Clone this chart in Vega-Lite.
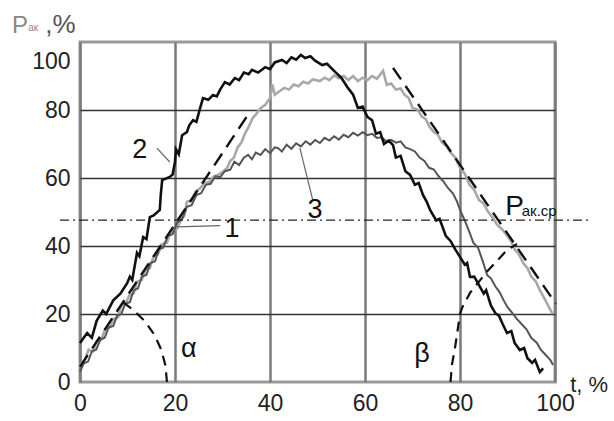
{
  "$schema": "https://vega.github.io/schema/vega-lite/v6.json",
  "width": 475,
  "height": 340,
  "autosize": "none",
  "padding": {"left": 80, "top": 42, "right": 59, "bottom": 39},
  "background": "white",
  "config": {
    "view": {"stroke": "#9a9a9a", "strokeWidth": 3},
    "font": "Liberation Sans",
    "axis": {"domain": false, "ticks": false, "labelFont": "Liberation Sans", "labelFontSize": 23, "labelColor": "#222", "labelOverlap": false, "labelFlush": false}
  },
  "datasets": {
    "curves": [
      {"s": "2", "t": 0, "p": 11.5}, {"s": "2", "t": 1.5, "p": 14.4}, {"s": "2", "t": 2.5, "p": 13}, {"s": "2", "t": 3.5, "p": 18}, {"s": "2", "t": 4.8, "p": 21}, {"s": "2", "t": 5.5, "p": 20}, {"s": "2", "t": 7, "p": 24}, {"s": "2", "t": 8.5, "p": 26}, {"s": "2", "t": 9.9, "p": 29}, {"s": "2", "t": 10.5, "p": 31}, {"s": "2", "t": 11, "p": 30}, {"s": "2", "t": 12, "p": 38}, {"s": "2", "t": 12.5, "p": 37}, {"s": "2", "t": 13.3, "p": 42.6}, {"s": "2", "t": 14, "p": 42}, {"s": "2", "t": 14.7, "p": 48.5}, {"s": "2", "t": 15.5, "p": 49}, {"s": "2", "t": 16.8, "p": 50.6}, {"s": "2", "t": 17, "p": 55}, {"s": "2", "t": 17.3, "p": 59.4}, {"s": "2", "t": 18.9, "p": 60.3}, {"s": "2", "t": 19.5, "p": 61}, {"s": "2", "t": 20, "p": 64.7}, {"s": "2", "t": 20.2, "p": 68.5}, {"s": "2", "t": 20.8, "p": 67}, {"s": "2", "t": 21.5, "p": 72.6}, {"s": "2", "t": 22.5, "p": 73.5}, {"s": "2", "t": 23, "p": 75.5}, {"s": "2", "t": 23.8, "p": 77}, {"s": "2", "t": 24.5, "p": 76.5}, {"s": "2", "t": 25.3, "p": 80.6}, {"s": "2", "t": 25.9, "p": 83.5}, {"s": "2", "t": 27, "p": 83}, {"s": "2", "t": 28, "p": 84.4}, {"s": "2", "t": 28.8, "p": 84}, {"s": "2", "t": 29.5, "p": 86}, {"s": "2", "t": 30.5, "p": 88.2}, {"s": "2", "t": 31.5, "p": 87.5}, {"s": "2", "t": 32.6, "p": 89.4}, {"s": "2", "t": 33.5, "p": 88.8}, {"s": "2", "t": 34.5, "p": 91}, {"s": "2", "t": 35.5, "p": 90.5}, {"s": "2", "t": 36.2, "p": 91.8}, {"s": "2", "t": 37.5, "p": 91}, {"s": "2", "t": 39, "p": 92.6}, {"s": "2", "t": 40, "p": 92}, {"s": "2", "t": 41, "p": 94}, {"s": "2", "t": 42.5, "p": 94.7}, {"s": "2", "t": 43.5, "p": 93.8}, {"s": "2", "t": 44.5, "p": 95.5}, {"s": "2", "t": 45.5, "p": 94.8}, {"s": "2", "t": 46.5, "p": 96.2}, {"s": "2", "t": 47.4, "p": 95.3}, {"s": "2", "t": 48.5, "p": 95.8}, {"s": "2", "t": 49.5, "p": 94.5}, {"s": "2", "t": 51, "p": 93.2}, {"s": "2", "t": 52, "p": 93.6}, {"s": "2", "t": 53.7, "p": 91.2}, {"s": "2", "t": 55, "p": 89.5}, {"s": "2", "t": 56.4, "p": 86.5}, {"s": "2", "t": 57.5, "p": 84.5}, {"s": "2", "t": 58.5, "p": 80.6}, {"s": "2", "t": 59.5, "p": 81}, {"s": "2", "t": 60.5, "p": 78}, {"s": "2", "t": 61.5, "p": 77}, {"s": "2", "t": 62.3, "p": 73}, {"s": "2", "t": 63.2, "p": 73.5}, {"s": "2", "t": 64, "p": 70}, {"s": "2", "t": 65, "p": 71}, {"s": "2", "t": 65.9, "p": 69.7}, {"s": "2", "t": 66.5, "p": 66}, {"s": "2", "t": 67.5, "p": 66.5}, {"s": "2", "t": 68.5, "p": 62}, {"s": "2", "t": 69.5, "p": 60.9}, {"s": "2", "t": 70.5, "p": 58}, {"s": "2", "t": 71.3, "p": 58.5}, {"s": "2", "t": 72.2, "p": 55}, {"s": "2", "t": 73, "p": 53}, {"s": "2", "t": 73.7, "p": 50.6}, {"s": "2", "t": 75, "p": 47.5}, {"s": "2", "t": 75.7, "p": 48}, {"s": "2", "t": 77, "p": 43}, {"s": "2", "t": 78, "p": 41.5}, {"s": "2", "t": 79, "p": 39}, {"s": "2", "t": 80, "p": 36.8}, {"s": "2", "t": 81, "p": 34.5}, {"s": "2", "t": 81.5, "p": 35}, {"s": "2", "t": 82.1, "p": 30.9}, {"s": "2", "t": 83, "p": 31}, {"s": "2", "t": 84.2, "p": 28}, {"s": "2", "t": 85, "p": 26}, {"s": "2", "t": 85.5, "p": 27}, {"s": "2", "t": 86.5, "p": 22.5}, {"s": "2", "t": 87.4, "p": 20.3}, {"s": "2", "t": 88.2, "p": 19.5}, {"s": "2", "t": 89, "p": 17}, {"s": "2", "t": 89.9, "p": 14.4}, {"s": "2", "t": 90.8, "p": 15}, {"s": "2", "t": 91.5, "p": 11.5}, {"s": "2", "t": 92.6, "p": 9.4}, {"s": "2", "t": 93.5, "p": 10}, {"s": "2", "t": 94.2, "p": 7}, {"s": "2", "t": 95.2, "p": 5.6}, {"s": "2", "t": 95.8, "p": 6.5}, {"s": "2", "t": 96.8, "p": 2.9}, {"s": "2", "t": 97.5, "p": 4},

      {"s": "1", "t": 0, "p": 5}, {"s": "1", "t": 1, "p": 6.5}, {"s": "1", "t": 1.8, "p": 9.5}, {"s": "1", "t": 2.7, "p": 9}, {"s": "1", "t": 3.5, "p": 12}, {"s": "1", "t": 4.5, "p": 12.5}, {"s": "1", "t": 5.3, "p": 15.5}, {"s": "1", "t": 6.2, "p": 16}, {"s": "1", "t": 7, "p": 18.5}, {"s": "1", "t": 8, "p": 19}, {"s": "1", "t": 8.7, "p": 22.5}, {"s": "1", "t": 9.6, "p": 23}, {"s": "1", "t": 10.4, "p": 25.5}, {"s": "1", "t": 11.3, "p": 26}, {"s": "1", "t": 12, "p": 29.5}, {"s": "1", "t": 13, "p": 30}, {"s": "1", "t": 13.8, "p": 33}, {"s": "1", "t": 14.7, "p": 33.5}, {"s": "1", "t": 15.5, "p": 37}, {"s": "1", "t": 16.4, "p": 37.5}, {"s": "1", "t": 17.2, "p": 40.5}, {"s": "1", "t": 18.3, "p": 41}, {"s": "1", "t": 19, "p": 44}, {"s": "1", "t": 20.4, "p": 45}, {"s": "1", "t": 21.2, "p": 47.6}, {"s": "1", "t": 22, "p": 49}, {"s": "1", "t": 22.5, "p": 53}, {"s": "1", "t": 23.5, "p": 53.5}, {"s": "1", "t": 24.3, "p": 56}, {"s": "1", "t": 25.3, "p": 57}, {"s": "1", "t": 26.2, "p": 58.5}, {"s": "1", "t": 27.2, "p": 58.8}, {"s": "1", "t": 28.2, "p": 60.5}, {"s": "1", "t": 29.2, "p": 61}, {"s": "1", "t": 30.2, "p": 62}, {"s": "1", "t": 31, "p": 63}, {"s": "1", "t": 31.6, "p": 65}, {"s": "1", "t": 32.4, "p": 66}, {"s": "1", "t": 33.2, "p": 69}, {"s": "1", "t": 34, "p": 70.5}, {"s": "1", "t": 34.7, "p": 73}, {"s": "1", "t": 35.5, "p": 75}, {"s": "1", "t": 36.3, "p": 77.5}, {"s": "1", "t": 37.2, "p": 79}, {"s": "1", "t": 38, "p": 80.5}, {"s": "1", "t": 39, "p": 81.5}, {"s": "1", "t": 40, "p": 83.5}, {"s": "1", "t": 40.5, "p": 87.5}, {"s": "1", "t": 41, "p": 84.5}, {"s": "1", "t": 42, "p": 85.5}, {"s": "1", "t": 43, "p": 86.5}, {"s": "1", "t": 44, "p": 86}, {"s": "1", "t": 45, "p": 87.5}, {"s": "1", "t": 46, "p": 87}, {"s": "1", "t": 47, "p": 88.3}, {"s": "1", "t": 48, "p": 87.8}, {"s": "1", "t": 49, "p": 89}, {"s": "1", "t": 50.5, "p": 88.5}, {"s": "1", "t": 51.5, "p": 89.5}, {"s": "1", "t": 52.5, "p": 88.8}, {"s": "1", "t": 53.5, "p": 90.2}, {"s": "1", "t": 54.5, "p": 89.3}, {"s": "1", "t": 55.5, "p": 90}, {"s": "1", "t": 56.5, "p": 88.8}, {"s": "1", "t": 57.5, "p": 90}, {"s": "1", "t": 58.5, "p": 88.5}, {"s": "1", "t": 59.5, "p": 89.5}, {"s": "1", "t": 60.5, "p": 88.8}, {"s": "1", "t": 61.5, "p": 90}, {"s": "1", "t": 62.5, "p": 89.2}, {"s": "1", "t": 63.8, "p": 91.5}, {"s": "1", "t": 64.6, "p": 87.4}, {"s": "1", "t": 65.5, "p": 87.8}, {"s": "1", "t": 66.5, "p": 86}, {"s": "1", "t": 67.5, "p": 86.3}, {"s": "1", "t": 68.3, "p": 84.5}, {"s": "1", "t": 69.2, "p": 83.5}, {"s": "1", "t": 70, "p": 80.6}, {"s": "1", "t": 71, "p": 80.2}, {"s": "1", "t": 72, "p": 78}, {"s": "1", "t": 72.8, "p": 77.3}, {"s": "1", "t": 73.6, "p": 75}, {"s": "1", "t": 74.5, "p": 73.5}, {"s": "1", "t": 75.3, "p": 72.8}, {"s": "1", "t": 76.2, "p": 70.5}, {"s": "1", "t": 77.2, "p": 69.3}, {"s": "1", "t": 78, "p": 67.5}, {"s": "1", "t": 79, "p": 66}, {"s": "1", "t": 80, "p": 63}, {"s": "1", "t": 81, "p": 61.3}, {"s": "1", "t": 82, "p": 58}, {"s": "1", "t": 83, "p": 56.5}, {"s": "1", "t": 84, "p": 53.5}, {"s": "1", "t": 85, "p": 52.5}, {"s": "1", "t": 85.8, "p": 50.3}, {"s": "1", "t": 86.8, "p": 48.5}, {"s": "1", "t": 87.8, "p": 46.3}, {"s": "1", "t": 88.8, "p": 45}, {"s": "1", "t": 89.8, "p": 43.3}, {"s": "1", "t": 90.7, "p": 41.5}, {"s": "1", "t": 91.5, "p": 39}, {"s": "1", "t": 92.4, "p": 37.5}, {"s": "1", "t": 93.3, "p": 35}, {"s": "1", "t": 94.2, "p": 33.5}, {"s": "1", "t": 95, "p": 31}, {"s": "1", "t": 96, "p": 29.5}, {"s": "1", "t": 96.8, "p": 27}, {"s": "1", "t": 97.8, "p": 24.5}, {"s": "1", "t": 98.5, "p": 22.6}, {"s": "1", "t": 99.5, "p": 20},

      {"s": "3", "t": 0, "p": 3}, {"s": "3", "t": 0.8, "p": 5.5}, {"s": "3", "t": 1.7, "p": 6}, {"s": "3", "t": 2.5, "p": 9}, {"s": "3", "t": 3.4, "p": 9.5}, {"s": "3", "t": 4.3, "p": 12.5}, {"s": "3", "t": 5.2, "p": 13}, {"s": "3", "t": 6, "p": 16}, {"s": "3", "t": 7, "p": 16.5}, {"s": "3", "t": 7.8, "p": 19.5}, {"s": "3", "t": 8.7, "p": 20}, {"s": "3", "t": 9.5, "p": 23}, {"s": "3", "t": 10.5, "p": 23.5}, {"s": "3", "t": 11.3, "p": 27}, {"s": "3", "t": 12.2, "p": 27.5}, {"s": "3", "t": 13, "p": 31}, {"s": "3", "t": 14, "p": 31.5}, {"s": "3", "t": 14.8, "p": 35}, {"s": "3", "t": 15.8, "p": 35.5}, {"s": "3", "t": 16.6, "p": 39}, {"s": "3", "t": 17.5, "p": 39.5}, {"s": "3", "t": 18.5, "p": 43}, {"s": "3", "t": 19.5, "p": 43.5}, {"s": "3", "t": 20.5, "p": 47}, {"s": "3", "t": 21.5, "p": 48}, {"s": "3", "t": 22.5, "p": 51.5}, {"s": "3", "t": 23.5, "p": 52}, {"s": "3", "t": 24.5, "p": 55}, {"s": "3", "t": 25.5, "p": 55.5}, {"s": "3", "t": 26.5, "p": 58}, {"s": "3", "t": 27.5, "p": 58.3}, {"s": "3", "t": 28.5, "p": 60.5}, {"s": "3", "t": 29.5, "p": 60.2}, {"s": "3", "t": 30.5, "p": 62}, {"s": "3", "t": 31.6, "p": 62.4}, {"s": "3", "t": 32.5, "p": 64.8}, {"s": "3", "t": 33.5, "p": 63.8}, {"s": "3", "t": 34.5, "p": 66}, {"s": "3", "t": 35.4, "p": 66.8}, {"s": "3", "t": 36.2, "p": 65.5}, {"s": "3", "t": 37, "p": 67.5}, {"s": "3", "t": 38, "p": 66.8}, {"s": "3", "t": 39, "p": 68.5}, {"s": "3", "t": 40, "p": 67.3}, {"s": "3", "t": 41, "p": 69}, {"s": "3", "t": 41.7, "p": 68.8}, {"s": "3", "t": 42.5, "p": 67.8}, {"s": "3", "t": 43.5, "p": 69.8}, {"s": "3", "t": 44.5, "p": 68.6}, {"s": "3", "t": 45.5, "p": 70.2}, {"s": "3", "t": 46.5, "p": 69.3}, {"s": "3", "t": 47.5, "p": 70.8}, {"s": "3", "t": 48.5, "p": 69.8}, {"s": "3", "t": 49.5, "p": 71.2}, {"s": "3", "t": 50.5, "p": 70.3}, {"s": "3", "t": 51.5, "p": 71.8}, {"s": "3", "t": 52.5, "p": 71}, {"s": "3", "t": 53.5, "p": 72.3}, {"s": "3", "t": 54.5, "p": 71.3}, {"s": "3", "t": 55.5, "p": 72.7}, {"s": "3", "t": 56.5, "p": 72}, {"s": "3", "t": 57.5, "p": 73.3}, {"s": "3", "t": 58.5, "p": 72.5}, {"s": "3", "t": 59.5, "p": 73.5}, {"s": "3", "t": 60.5, "p": 72.6}, {"s": "3", "t": 61.5, "p": 73}, {"s": "3", "t": 62.5, "p": 71.8}, {"s": "3", "t": 63.5, "p": 72}, {"s": "3", "t": 64.5, "p": 70.8}, {"s": "3", "t": 65.5, "p": 71.2}, {"s": "3", "t": 66.5, "p": 70.4}, {"s": "3", "t": 67.5, "p": 70.8}, {"s": "3", "t": 68.5, "p": 69}, {"s": "3", "t": 69.5, "p": 68.5}, {"s": "3", "t": 70.5, "p": 67.8}, {"s": "3", "t": 71.5, "p": 66}, {"s": "3", "t": 72.5, "p": 65}, {"s": "3", "t": 73.5, "p": 63}, {"s": "3", "t": 74.5, "p": 62.5}, {"s": "3", "t": 75.5, "p": 60.5}, {"s": "3", "t": 76.5, "p": 59}, {"s": "3", "t": 77.5, "p": 57}, {"s": "3", "t": 78.5, "p": 55.5}, {"s": "3", "t": 79.4, "p": 53}, {"s": "3", "t": 80, "p": 50.6}, {"s": "3", "t": 81, "p": 47.5}, {"s": "3", "t": 82, "p": 44}, {"s": "3", "t": 82.8, "p": 41}, {"s": "3", "t": 83.8, "p": 39.5}, {"s": "3", "t": 84.8, "p": 35.5}, {"s": "3", "t": 85.7, "p": 31.5}, {"s": "3", "t": 86.5, "p": 30.5}, {"s": "3", "t": 87.5, "p": 28}, {"s": "3", "t": 88.3, "p": 26.5}, {"s": "3", "t": 89.2, "p": 24}, {"s": "3", "t": 90, "p": 22}, {"s": "3", "t": 91, "p": 20.3}, {"s": "3", "t": 92, "p": 18.5}, {"s": "3", "t": 93, "p": 17}, {"s": "3", "t": 94, "p": 15.5}, {"s": "3", "t": 95, "p": 13}, {"s": "3", "t": 96.2, "p": 11.5}, {"s": "3", "t": 97, "p": 9.5}, {"s": "3", "t": 98, "p": 8}, {"s": "3", "t": 99, "p": 6.5}, {"s": "3", "t": 99.6, "p": 5}
    ],
    "tangents": [
      {"s": "a", "t": 0, "p": 4.5}, {"s": "a", "t": 35.8, "p": 79.5},
      {"s": "b", "t": 65.9, "p": 92.4}, {"s": "b", "t": 100.2, "p": 23}
    ],
    "arcs": [
      {"s": "alpha", "t": 18.3, "p": 0}, {"s": "alpha", "t": 18, "p": 4.8}, {"s": "alpha", "t": 17.1, "p": 9.5}, {"s": "alpha", "t": 15.7, "p": 13.8}, {"s": "alpha", "t": 13.7, "p": 17.8}, {"s": "alpha", "t": 11.2, "p": 21.2}, {"s": "alpha", "t": 9.1, "p": 23.4},
      {"s": "beta", "t": 78, "p": 0}, {"s": "beta", "t": 78.3, "p": 5}, {"s": "beta", "t": 79, "p": 10.5}, {"s": "beta", "t": 80, "p": 20}, {"s": "beta", "t": 80.5, "p": 22}, {"s": "beta", "t": 82.1, "p": 26.2}, {"s": "beta", "t": 85.7, "p": 32.5}, {"s": "beta", "t": 89.9, "p": 38.8}, {"s": "beta", "t": 92, "p": 40.6}
    ],
    "avg": [{"t": -4.2, "p": 47.6}, {"t": 107.8, "p": 47.6}],
    "leaders": [
      {"s": "L2", "t": 16.2, "p": 68.8}, {"s": "L2", "t": 18.9, "p": 64.7},
      {"s": "L1", "t": 20.4, "p": 45.6}, {"s": "L1", "t": 29.5, "p": 46},
      {"s": "L3", "t": 46.3, "p": 68.8}, {"s": "L3", "t": 49, "p": 53.5}
    ],
    "numlabels": [
      {"label": "2", "t": 12.6, "p": 65.9},
      {"label": "1", "t": 32, "p": 42.6},
      {"label": "3", "t": 49.5, "p": 48.2},
      {"label": "α", "t": 22.9, "p": 7.4},
      {"label": "β", "t": 72, "p": 5.9}
    ],
    "bigP": [{"label": "P", "t": 89.5, "p": 49.1}],
    "subP": [{"label": "ак.ср", "t": 93, "p": 48.8}],
    "ytitleP": [{"label": "P", "t": -14.3, "p": 102.6}],
    "ytitleSub": [{"label": "ак", "t": -10.9, "p": 103.2}],
    "ytitleRest": [{"label": ",%", "t": -7.3, "p": 102.6}],
    "xtitle": [{"label": "t, %", "t": 103.2, "p": -2.9}]
  },
  "encoding": {
    "x": {"field": "t", "type": "quantitative", "title": null,
      "scale": {"domain": [0, 100], "nice": false, "zero": false},
      "axis": {"values": [0, 20, 40, 60, 80, 100], "grid": true, "gridColor": "#7a7a7a", "gridWidth": 2.5, "labelPadding": 10}},
    "y": {"field": "p", "type": "quantitative", "title": null,
      "scale": {"domain": [0, 100], "nice": false, "zero": false},
      "axis": {"values": [0, 20, 40, 60, 80, 100], "grid": true,
        "gridColor": {"condition": {"test": "datum.value == 0 || datum.value == 100", "value": "transparent"}, "value": "#333"},
        "gridWidth": 1.5, "labelPadding": 10,
        "labelOffset": {"condition": {"test": "datum.value == 100", "value": 19}, "value": 0}}}
  },
  "layer": [
    {"data": {"name": "curves"}, "transform": [{"filter": "datum.s == '1'"}], "mark": {"type": "line", "color": "#a8a8a8", "strokeWidth": 2.6}},
    {"data": {"name": "curves"}, "transform": [{"filter": "datum.s == '3'"}], "mark": {"type": "line", "color": "#555", "strokeWidth": 2}},
    {"data": {"name": "curves"}, "transform": [{"filter": "datum.s == '2'"}], "mark": {"type": "line", "color": "#111", "strokeWidth": 2.6}},
    {"data": {"name": "tangents"}, "mark": {"type": "line", "color": "#111", "strokeWidth": 2.4, "strokeDash": [14, 8]}, "encoding": {"detail": {"field": "s"}}},
    {"data": {"name": "arcs"}, "mark": {"type": "line", "color": "#111", "strokeWidth": 2.2, "strokeDash": [10, 7]}, "encoding": {"detail": {"field": "s"}}},
    {"data": {"name": "avg"}, "mark": {"type": "line", "color": "#222", "strokeWidth": 1.2, "strokeDash": [9, 4, 2, 4], "clip": false}},
    {"data": {"name": "leaders"}, "mark": {"type": "line", "color": "#666", "strokeWidth": 1.2}, "encoding": {"detail": {"field": "s"}}},
    {"data": {"name": "numlabels"}, "mark": {"type": "text", "fontSize": 27, "align": "center", "baseline": "alphabetic", "color": "#111"}, "encoding": {"text": {"field": "label"}}},
    {"data": {"name": "bigP"}, "mark": {"type": "text", "fontSize": 28, "align": "left", "baseline": "alphabetic", "color": "#111"}, "encoding": {"text": {"field": "label"}}},
    {"data": {"name": "subP"}, "mark": {"type": "text", "fontSize": 15, "align": "left", "baseline": "alphabetic", "color": "#111"}, "encoding": {"text": {"field": "label"}}},
    {"data": {"name": "ytitleP"}, "mark": {"type": "text", "fontSize": 24, "align": "left", "baseline": "alphabetic", "color": "#888"}, "encoding": {"text": {"field": "label"}}},
    {"data": {"name": "ytitleSub"}, "mark": {"type": "text", "fontSize": 10, "align": "left", "baseline": "alphabetic", "color": "#888"}, "encoding": {"text": {"field": "label"}}},
    {"data": {"name": "ytitleRest"}, "mark": {"type": "text", "fontSize": 26, "align": "left", "baseline": "alphabetic", "color": "#555"}, "encoding": {"text": {"field": "label"}}},
    {"data": {"name": "xtitle"}, "mark": {"type": "text", "fontSize": 22, "align": "left", "baseline": "alphabetic", "color": "#222"}, "encoding": {"text": {"field": "label"}}}
  ]
}
